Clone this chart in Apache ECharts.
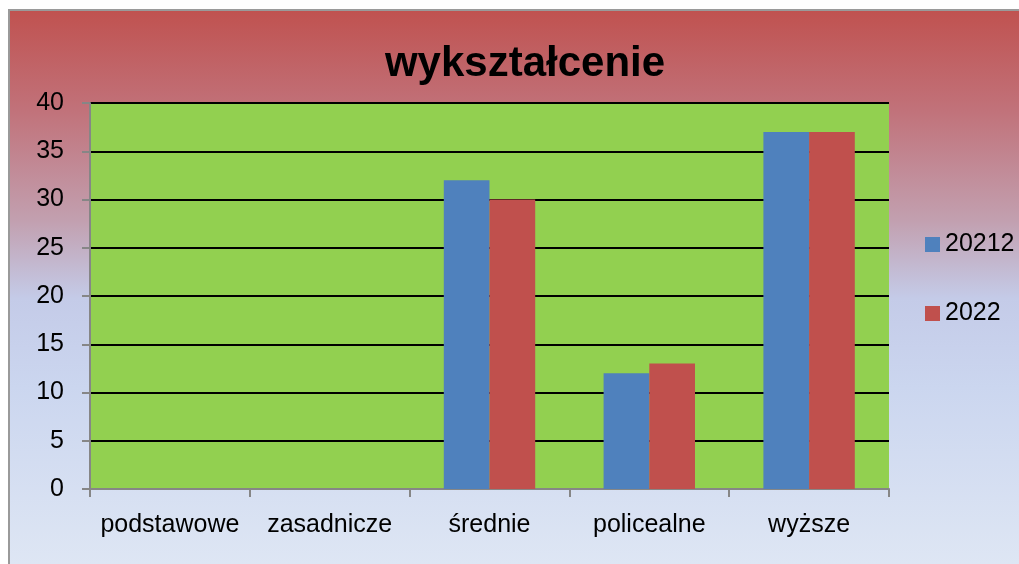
<!DOCTYPE html>
<html>
<head>
<meta charset="utf-8">
<script src="https://cdn.jsdelivr.net/npm/echarts@6/dist/echarts.min.js"></script>
<style>
	html, body { margin: 0; padding: 0; background: #fff; }
	.frame {
		position: absolute; left: 8px; top: 9px; width: 1011px; height: 555px;
		border-left: 2px solid #9a9a9a; border-top: 2px solid #9a9a9a;
		box-sizing: border-box;
		background: linear-gradient(to bottom, #c05250 0%, #c1727a 18%, #c2a0b0 38%, #c4cbe8 52%, #cbd6ef 68%, #dee6f4 100%);
	}
	#main { position: absolute; left: 0; top: 0; width: 1019px; height: 564px; }
</style>
</head>
<body>
<div class="frame"></div>
<div id="main"></div>
<script>
	var categories = ['podstawowe', 'zasadnicze', 'średnie', 'policealne', 'wyższe'];
	var seriesNames = ['20212', '2022'];
	var values2021 = [0, 0, 32, 12, 37];
	var values2022 = [0, 0, 30, 13, 37];
	var font = 'Liberation Sans';

	var chart = echarts.init(document.getElementById('main'));
	var option = {
		textStyle: { fontFamily: font },
		title: {
			text: 'wykształcenie',
			left: 520,
			textAlign: 'center',
			top: 38,
			textStyle: { fontFamily: font, fontSize: 42, fontWeight: 'bold', color: '#000' }
		},
		legend: {
			orient: 'vertical',
			left: 920,
			top: 227,
			itemGap: 44,
			itemWidth: 15,
			itemHeight: 15,
			icon: 'rect',
			data: seriesNames,
			textStyle: { fontFamily: font, fontSize: 25, color: '#000' }
		},
		grid: { left: 90, right: 130, top: 103, bottom: 75, backgroundColor: '#92d050', show: true, borderWidth: 0 },
		xAxis: {
			type: 'category',
			data: categories,
			axisLine: { lineStyle: { color: '#868686', width: 2 } },
			axisTick: { show: true, interval: 0, length: 8, lineStyle: { color: '#868686', width: 2 } },
			axisLabel: { interval: 0, fontFamily: font, fontSize: 25, color: '#000', margin: 24 }
		},
		yAxis: {
			type: 'value',
			min: 0,
			max: 40,
			interval: 5,
			axisLine: { show: true, lineStyle: { color: '#868686', width: 2 } },
			axisTick: { show: true, length: 8, lineStyle: { color: '#868686', width: 2 } },
			axisLabel: { fontFamily: font, fontSize: 25, color: '#000', margin: 26 },
			splitLine: { lineStyle: { color: '#000', width: 2 } }
		},
		series: [
			{
				name: seriesNames[0],
				type: 'bar',
				data: values2021,
				barGap: '0%',
				barCategoryGap: '42.8%',
				itemStyle: { color: '#4f81bd' }
			},
			{
				name: seriesNames[1],
				type: 'bar',
				data: values2022,
				itemStyle: { color: '#c0504d' }
			}
		]
	};
	chart.setOption(option);
</script>
</body>
</html>
